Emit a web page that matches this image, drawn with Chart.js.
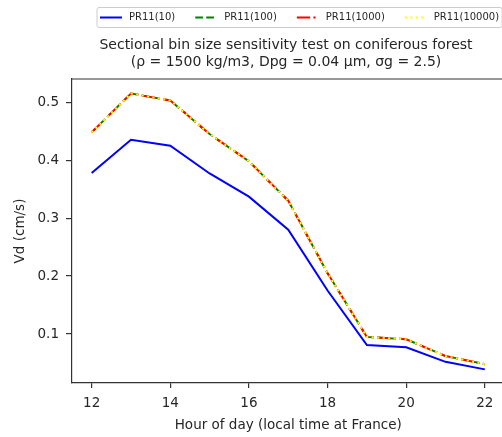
<!DOCTYPE html>
<html>
<head>
<meta charset="utf-8">
<script src="https://cdn.jsdelivr.net/npm/chart.js@4/dist/chart.umd.min.js"></script>
<style>
  html, body { margin: 0; padding: 0; background: #fff; overflow: hidden; }
  #wrap { width: 512px; height: 437px; position: relative; }
</style>
</head>
<body>
<div id="wrap"><canvas id="c"></canvas></div>
<script>
const hours = [12, 13, 14, 15, 16, 17, 18, 19, 20, 21, 22];
const pr10    = [0.378, 0.435, 0.425, 0.377, 0.337, 0.280, 0.175, 0.081, 0.077, 0.052, 0.039];
const pr100   = [0.448, 0.515, 0.503, 0.445, 0.398, 0.330, 0.205, 0.095, 0.091, 0.062, 0.048];
const pr1000  = [0.448, 0.515, 0.503, 0.445, 0.398, 0.330, 0.205, 0.095, 0.091, 0.062, 0.048];
const pr10000 = [0.448, 0.515, 0.503, 0.445, 0.398, 0.330, 0.205, 0.095, 0.091, 0.062, 0.048];
const seriesNames = ['PR11(10)', 'PR11(100)', 'PR11(1000)', 'PR11(10000)'];
const xTicks = [12, 14, 16, 18, 20, 22];
const yTicks = [0.1, 0.2, 0.3, 0.4, 0.5];
const titleLines = ['Sectional bin size sensitivity test on coniferous forest',
                    '(\u03C1 = 1500 kg/m3, Dpg = 0.04 \u03BCm, \u03C3g = 2.5)'];

const FONT = '"DejaVu Sans", "Liberation Sans", sans-serif';
const TXT = '#262626';
const styles = [
  { color: '#0000ff', dash: [] },
  { color: '#008000', dash: [7.7, 3.3] },
  { color: '#ff0000', dash: [13.3, 3.3, 2.1, 3.3] },
  { color: '#ffff00', dash: [2.1, 3.4] }
];
const seriesData = [pr10, pr100, pr1000, pr10000];

const datasets = seriesData.map((vals, i) => ({
  label: seriesNames[i],
  data: hours.map((h, k) => ({ x: h, y: vals[k] })),
  borderColor: styles[i].color,
  backgroundColor: styles[i].color,
  borderDash: styles[i].dash,
  borderWidth: 2,
  pointRadius: 0,
  tension: 0,
  fill: false,
  order: 4 - i
}));

const framePlugin = {
  id: 'frame',
  afterDraw(chart) {
    const { ctx, chartArea: a } = chart;
    ctx.save();
    ctx.strokeStyle = '#333';
    ctx.lineWidth = 1.2;
    ctx.beginPath();
    ctx.moveTo(a.left, a.top);
    ctx.lineTo(a.right, a.top);
    ctx.lineTo(a.right, a.bottom);
    ctx.stroke();
    ctx.restore();

    // title, centred over the axes
    ctx.save();
    ctx.font = '14px ' + FONT;
    ctx.fillStyle = TXT;
    ctx.textAlign = 'center';
    ctx.textBaseline = 'middle';
    const cx = 286;
    ctx.fillText(titleLines[0], cx, 45);
    ctx.fillText(titleLines[1], cx, 62);
    ctx.restore();

    // legend
    ctx.save();
    ctx.font = '10px ' + FONT;
    let x = 100;
    const yLine = 17.5;
    const items = [];
    seriesNames.forEach((name, i) => {
      const w = ctx.measureText(name).width;
      items.push({ x, w, i, name });
      x = x + 29 + w + 20;
    });
    const last = items[items.length - 1];
    const fx0 = 97, fx1 = last.x + 29 + last.w + 3, fy0 = 7.5, fy1 = 27.5;
    ctx.fillStyle = 'rgba(255,255,255,0.8)';
    ctx.strokeStyle = '#cccccc';
    ctx.lineWidth = 1;
    ctx.beginPath();
    ctx.roundRect(fx0, fy0, fx1 - fx0, fy1 - fy0, 2);
    ctx.fill();
    ctx.stroke();
    items.forEach(it => {
      ctx.strokeStyle = styles[it.i].color;
      ctx.lineWidth = 2;
      ctx.setLineDash(styles[it.i].dash);
      ctx.beginPath();
      ctx.moveTo(it.x, yLine);
      ctx.lineTo(it.x + 22, yLine);
      ctx.stroke();
      ctx.setLineDash([]);
      ctx.fillStyle = TXT;
      ctx.textBaseline = 'middle';
      ctx.textAlign = 'left';
      ctx.fillText(it.name, it.x + 29, yLine);
    });
    ctx.restore();
  }
};

new Chart(document.getElementById('c'), {
  type: 'line',
  data: { datasets },
  options: {
    responsive: true,
    maintainAspectRatio: false,
    animation: false,
    layout: { padding: { left: 0, right: 7.5, top: 79, bottom: 0 } },
    plugins: {
      legend: { display: false },
      tooltip: { enabled: false },
      title: { display: false }
    },
    scales: {
      x: {
        type: 'linear',
        min: 11.5,
        max: 22.5,
        afterFit(s) { s.height = 54; },
        afterBuildTicks(s) { s.ticks = xTicks.map(v => ({ value: v })); },
        ticks: {
          includeBounds: false,
          color: TXT,
          font: { family: FONT, size: 13.5 },
          padding: 7,
          maxRotation: 0,
          callback: v => String(v)
        },
        grid: { drawOnChartArea: false, drawTicks: true, tickLength: 5, color: '#333', lineWidth: 1.2 },
        border: { display: true, color: '#333', width: 1.2 },
        title: {
          display: true,
          text: 'Hour of day (local time at France)',
          color: TXT,
          font: { family: FONT, size: 13.5, lineHeight: 1.2 },
          padding: { top: 0, bottom: 3.5 }
        }
      },
      y: {
        type: 'linear',
        min: 0.0155,
        max: 0.54,
        afterFit(s) { s.width = 72; },
        afterBuildTicks(s) { s.ticks = yTicks.map(v => ({ value: v })); },
        ticks: {
          includeBounds: false,
          color: TXT,
          font: { family: FONT, size: 13.5 },
          padding: 7,
          callback: v => Number(v).toFixed(1)
        },
        grid: { drawOnChartArea: false, drawTicks: true, tickLength: 6, color: '#333', lineWidth: 1.2 },
        border: { display: true, color: '#333', width: 1.2 },
        title: {
          display: true,
          text: 'Vd (cm/s)',
          color: TXT,
          font: { family: FONT, size: 13.5, lineHeight: 1.2 },
          padding: { top: 12, bottom: 0 }
        }
      }
    }
  },
  plugins: [framePlugin]
});
</script>
</body>
</html>
